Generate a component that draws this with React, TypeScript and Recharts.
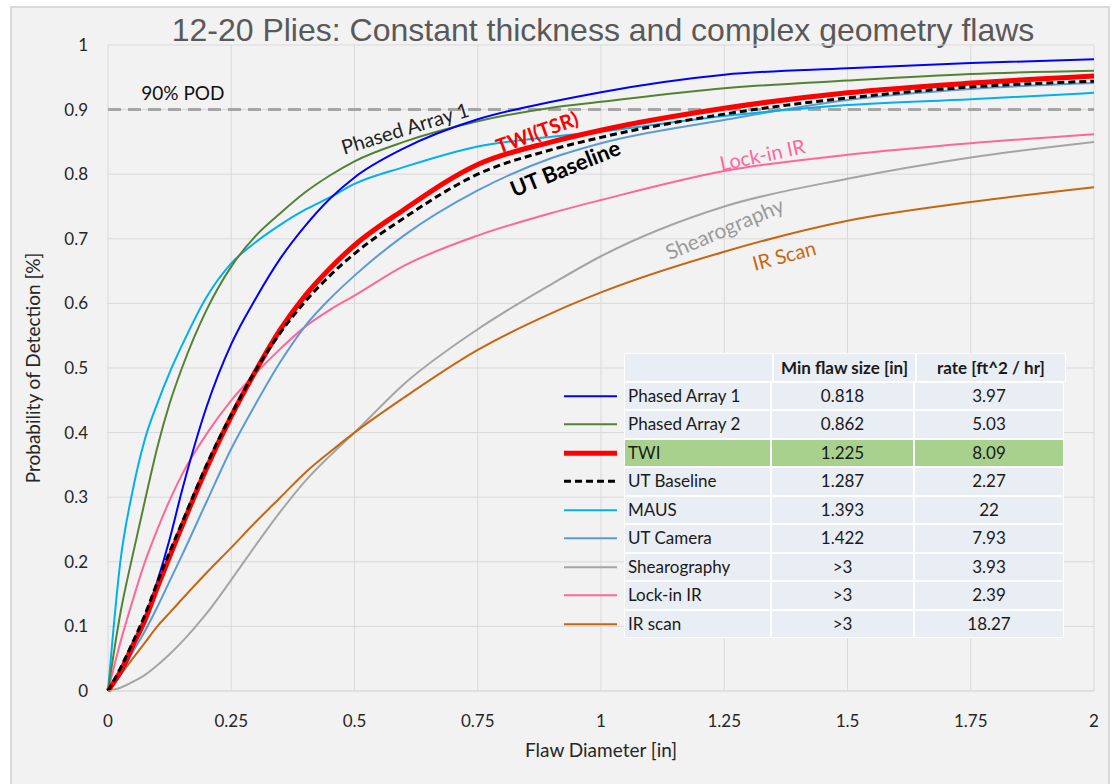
import React from 'react';
import { LineChart, Line, XAxis, YAxis, CartesianGrid, ReferenceLine, ReferenceDot } from 'recharts';

const flawSize = [0, 0.025, 0.05, 0.075, 0.1, 0.125, 0.15, 0.2, 0.25, 0.3, 0.35, 0.4, 0.45, 0.5, 0.6, 0.75, 0.9, 1, 1.25, 1.5, 1.75, 2];

const phasedArray1 = [0, 0.025, 0.065, 0.115, 0.17, 0.235, 0.31, 0.44, 0.537, 0.608, 0.67, 0.72, 0.762, 0.795, 0.84, 0.885, 0.912, 0.927, 0.954, 0.964, 0.972, 0.978];
const phasedArray2 = [0, 0.12, 0.21, 0.295, 0.377, 0.445, 0.5, 0.59, 0.657, 0.705, 0.74, 0.772, 0.798, 0.82, 0.85, 0.882, 0.903, 0.912, 0.933, 0.945, 0.955, 0.96];
const twi = [0, 0.03, 0.07, 0.11, 0.16, 0.208, 0.255, 0.345, 0.425, 0.496, 0.56, 0.612, 0.654, 0.69, 0.745, 0.815, 0.85, 0.868, 0.902, 0.926, 0.941, 0.952];
const utBaseline = [0, 0.035, 0.075, 0.118, 0.168, 0.215, 0.26, 0.35, 0.428, 0.497, 0.555, 0.603, 0.643, 0.677, 0.732, 0.8, 0.838, 0.857, 0.893, 0.918, 0.935, 0.944];
const maus = [0, 0.2, 0.31, 0.39, 0.445, 0.493, 0.535, 0.61, 0.662, 0.695, 0.722, 0.745, 0.764, 0.785, 0.811, 0.843, 0.858, 0.866, 0.89, 0.907, 0.916, 0.926];
const utCamera = [0, 0.025, 0.06, 0.093, 0.13, 0.17, 0.21, 0.293, 0.375, 0.445, 0.51, 0.565, 0.607, 0.643, 0.705, 0.775, 0.825, 0.848, 0.884, 0.915, 0.932, 0.941];
const shearography = [0, 0.005, 0.014, 0.025, 0.04, 0.057, 0.076, 0.12, 0.172, 0.226, 0.278, 0.325, 0.364, 0.4, 0.475, 0.56, 0.63, 0.673, 0.75, 0.793, 0.826, 0.85];
const lockInIR = [0, 0.075, 0.14, 0.2, 0.25, 0.295, 0.335, 0.398, 0.45, 0.492, 0.53, 0.564, 0.59, 0.612, 0.658, 0.705, 0.74, 0.76, 0.805, 0.83, 0.848, 0.862];
const irScan = [0, 0.025, 0.05, 0.075, 0.1, 0.121, 0.142, 0.183, 0.222, 0.262, 0.3, 0.338, 0.37, 0.4, 0.454, 0.528, 0.585, 0.617, 0.68, 0.728, 0.757, 0.78];

const xTicks = [0, 0.25, 0.5, 0.75, 1, 1.25, 1.5, 1.75, 2];
const yTicks = [0, 0.1, 0.2, 0.3, 0.4, 0.5, 0.6, 0.7, 0.8, 0.9, 1];

// legend table rows: name, min flaw size, rate
const methodNames = ['Phased Array 1', 'Phased Array 2', 'TWI', 'UT Baseline', 'MAUS', 'UT Camera', 'Shearography', 'Lock-in IR', 'IR scan'];
const minFlawSize = ['0.818', '0.862', '1.225', '1.287', '1.393', '1.422', '>3', '>3', '>3'];
const scanRate = ['3.97', '5.03', '8.09', '2.27', '22', '7.93', '3.93', '2.39', '18.27'];

const series = [
  { key: 'shearography', data: shearography, color: '#a5a5a5', width: 2 },
  { key: 'irScan', data: irScan, color: '#c9650f', width: 2 },
  { key: 'lockInIR', data: lockInIR, color: '#ff6699', width: 2 },
  { key: 'utCamera', data: utCamera, color: '#5b9bd5', width: 2 },
  { key: 'maus', data: maus, color: '#00b0f0', width: 2 },
  { key: 'phasedArray2', data: phasedArray2, color: '#548235', width: 2 },
  { key: 'phasedArray1', data: phasedArray1, color: '#0000ff', width: 2 },
  { key: 'twi', data: twi, color: '#ff0000', width: 5 },
  { key: 'utBaseline', data: utBaseline, color: '#000000', width: 3, dash: '7 4' },
];

const legendStyle: Record<string, { color: string; width: number; dash?: string }> = {
  'Phased Array 1': { color: '#0000ff', width: 2 },
  'Phased Array 2': { color: '#548235', width: 2 },
  TWI: { color: '#ff0000', width: 5 },
  'UT Baseline': { color: '#000000', width: 3, dash: '7 4' },
  MAUS: { color: '#00b0f0', width: 2 },
  'UT Camera': { color: '#5b9bd5', width: 2 },
  Shearography: { color: '#a5a5a5', width: 2 },
  'Lock-in IR': { color: '#ff6699', width: 2 },
  'IR scan': { color: '#c9650f', width: 2 },
};

const chartData = flawSize.map((x, i) => {
  const row: Record<string, number> = { x };
  series.forEach(s => { row[s.key] = s.data[i]; });
  return row;
});

const notes = [
  { x: 0.152, y: 0.927, text: '90% POD', color: '#111', size: 19, angle: 0, bold: false },
  { x: 0.602, y: 0.872, text: 'Phased Array 1', color: '#222', size: 20, angle: -17, bold: false },
  { x: 0.87, y: 0.866, text: 'TWI(TSR)', color: '#ff0000', size: 20, angle: -20, bold: true },
  { x: 0.927, y: 0.81, text: 'UT Baseline', color: '#000', size: 22, angle: -22, bold: true },
  { x: 1.327, y: 0.831, text: 'Lock-in IR', color: '#ff6699', size: 20, angle: -12, bold: false },
  { x: 1.25, y: 0.717, text: 'Shearography', color: '#9a9a9a', size: 21, angle: -23, bold: false },
  { x: 1.371, y: 0.675, text: 'IR Scan', color: '#c9650f', size: 20, angle: -15, bold: false },
];

const FONT = 'Lato, "Open Sans", sans-serif';

const noteLabel = (n: typeof notes[number]) => (props: any) => {
  const vb = props.viewBox || { x: 0, y: 0, width: 0, height: 0 };
  const cx = vb.x + (vb.width || 0) / 2;
  const cy = vb.y + (vb.height || 0) / 2;
  return (
    <text
      x={cx}
      y={cy}
      transform={`rotate(${n.angle} ${cx} ${cy})`}
      textAnchor="middle"
      dominantBaseline="central"
      fill={n.color}
      fontSize={n.size}
      fontWeight={n.bold ? 700 : 400}
      fontFamily={FONT}
    >
      {n.text}
    </text>
  );
};

const ROW_H = 28.5;
const COLS = [147, 141, 148];

const TableLegend = () => (
  <div style={{ position: 'absolute', left: 562, top: 353, fontFamily: FONT, fontSize: 17, color: '#1a1a1a' }}>
    <div style={{ display: 'flex', height: ROW_H }}>
      <div style={{ width: 62 }} />
      <div style={{ width: COLS[0], background: '#e9edf4', border: '1px solid #fff' }} />
      <div style={{ width: COLS[1], background: '#e9edf4', border: '1px solid #fff', textAlign: 'center', fontWeight: 700, lineHeight: `${ROW_H}px` }}>Min flaw size [in]</div>
      <div style={{ width: COLS[2], background: '#e9edf4', border: '1px solid #fff', textAlign: 'center', fontWeight: 700, lineHeight: `${ROW_H}px` }}>rate [ft^2 / hr]</div>
    </div>
    {methodNames.map((name, i) => {
      const st = legendStyle[name];
      const bg = name === 'TWI' ? '#a9d18e' : '#e9edf4';
      return (
        <div key={name} style={{ display: 'flex', height: ROW_H }}>
          <div style={{ width: 62, position: 'relative' }}>
            <svg width={62} height={ROW_H} style={{ position: 'absolute', left: 0, top: 0 }}>
              <line x1={2} x2={55} y1={ROW_H / 2} y2={ROW_H / 2} stroke={st.color} strokeWidth={st.width} strokeDasharray={st.dash} />
            </svg>
          </div>
          <div style={{ width: COLS[0], background: bg, border: '1px solid #fff', paddingLeft: 3, boxSizing: 'border-box', lineHeight: `${ROW_H - 2}px` }}>{name}</div>
          <div style={{ width: COLS[1], background: bg, border: '1px solid #fff', textAlign: 'center', lineHeight: `${ROW_H - 2}px` }}>{minFlawSize[i]}</div>
          <div style={{ width: COLS[2], background: bg, border: '1px solid #fff', textAlign: 'center', lineHeight: `${ROW_H - 2}px` }}>{scanRate[i]}</div>
        </div>
      );
    })}
  </div>
);

export default function App() {
  return (
    <div style={{ position: 'absolute', left: 0, top: 0, width: 1114, height: 784, background: '#fff', overflow: 'hidden' }}>
      <div style={{ position: 'absolute', left: 10, top: 6, width: 1100, height: 790, background: '#f2f2f2', border: '2px solid #d9d9d9', boxSizing: 'border-box' }} />
      <div style={{ position: 'absolute', left: 0, top: 12, width: 1206, textAlign: 'center', fontFamily: '"Liberation Sans", Arial, sans-serif', fontSize: 32, color: '#595959', whiteSpace: 'nowrap' }}>
        12-20 Plies: Constant thickness and complex geometry flaws
      </div>
      <div style={{ position: 'absolute', left: 0, top: 0 }}>
        <LineChart width={1114} height={784} data={chartData} margin={{ top: 45, right: 20, bottom: 63, left: 48 }}>
          <CartesianGrid stroke="#d9d9d9" strokeWidth={1} />
          <XAxis
            dataKey="x"
            type="number"
            domain={[0, 2]}
            ticks={xTicks}
            axisLine={{ stroke: '#d9d9d9' }}
            tickLine={false}
            tickMargin={18}
            height={30}
            tick={{ fill: '#262626', fontSize: 17, fontFamily: FONT }}
            label={{ value: 'Flaw Diameter [in]', position: 'insideBottom', offset: -36, fill: '#262626', fontSize: 19, fontFamily: FONT }}
          />
          <YAxis
            type="number"
            domain={[0, 1]}
            ticks={yTicks}
            axisLine={false}
            tickLine={false}
            tickMargin={14}
            width={60}
            tick={{ fill: '#262626', fontSize: 17, fontFamily: FONT }}
            label={{ value: 'Probability of Detection [%]', angle: -90, position: 'insideLeft', offset: -15, style: { textAnchor: 'middle' }, fill: '#262626', fontSize: 19, fontFamily: FONT }}
          />
          <ReferenceLine y={0.9} stroke="#a6a6a6" strokeWidth={3} strokeDasharray="13 7" />
          {series.map(s => (
            <Line
              key={s.key}
              dataKey={s.key}
              type="monotone"
              stroke={s.color}
              strokeWidth={s.width}
              strokeDasharray={s.dash}
              dot={false}
              activeDot={false}
              isAnimationActive={false}
            />
          ))}
          {notes.map(n => (
            <ReferenceDot key={n.text} x={n.x} y={n.y} r={1} fill="none" stroke="none" label={noteLabel(n)} />
          ))}
        </LineChart>
      </div>
      <TableLegend />
    </div>
  );
}
